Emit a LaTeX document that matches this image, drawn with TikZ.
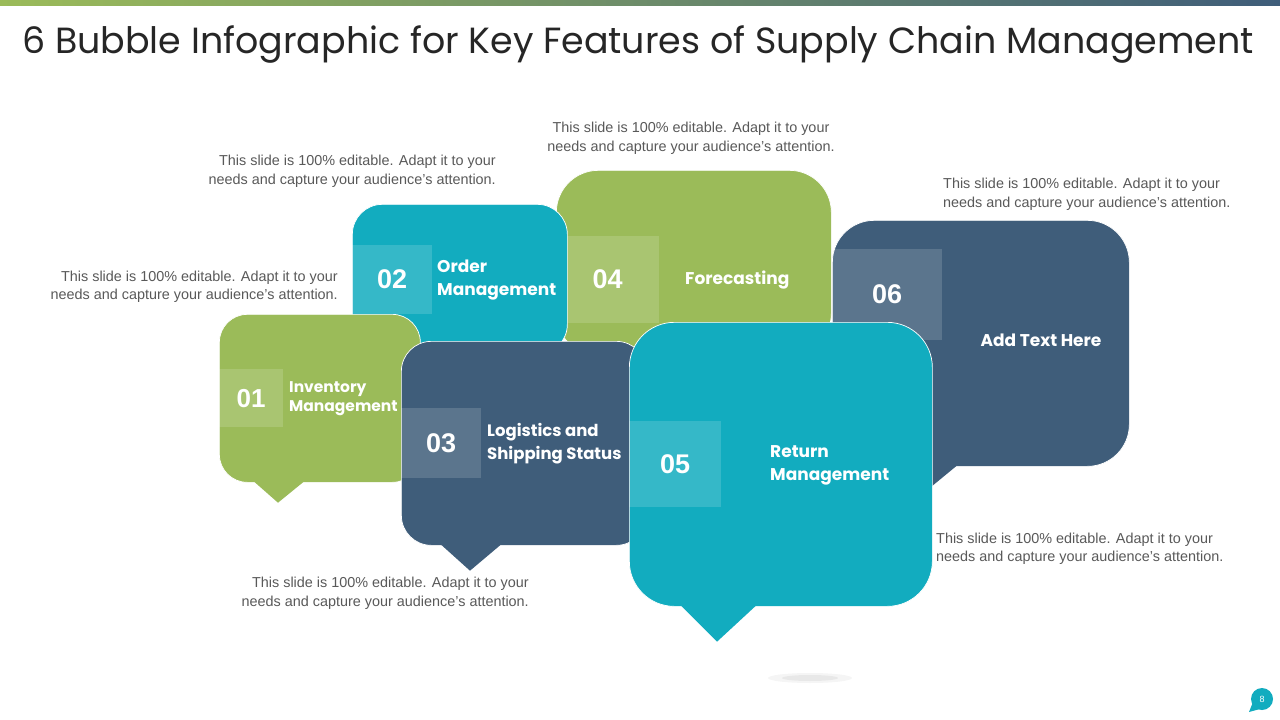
\documentclass[tikz,border=0pt]{standalone}
\usepackage{fontspec}
\setmainfont{Liberation Sans}
\newfontfamily\headfont{Poppins}
\usetikzlibrary{positioning,calc}
\definecolor{sgreen}{HTML}{9BBB59}
\definecolor{scyan}{HTML}{12ACBF}
\definecolor{sdark}{HTML}{3F5D7A}
\definecolor{sgray}{HTML}{595959}

\begin{document}
\begin{tikzpicture}[
      x=1pt, y=-1pt,
      bubble/.style={
        draw=white,
        line width=0.7pt,
        anchor=north west,
        inner sep=0pt
      },
      numbox/.style={
        fill=white,
        fill opacity=0.15,
        text opacity=1,
        text=white,
        anchor=north west,
        inner sep=0pt,
        font=\fontsize{27}{27}\selectfont\bfseries
      },
      lbl/.style={
        text=white,
        anchor=west,
        align=left,
        inner sep=0pt,
        font=\headfont\fontsize{17}{23}\selectfont\bfseries
      },
      desc/.style={
        text=sgray,
        inner sep=0pt,
        font=\fontsize{14.4}{18.5}\selectfont
      }
    ]

    \useasboundingbox[fill=white] (0,0) rectangle (1280,720);
    \shade[left color=sgreen, right color=sdark] (0,0) rectangle (1280,5);

    \node[anchor=west, inner sep=0pt, text=black!85,
      font=\headfont\fontsize{36.4}{40}\selectfont] (title) at (22,45)
      {6 Bubble Infographic for Key Features of Supply Chain Management};

    % bubbles, back to front
    \node[bubble, fill=sgreen, rounded corners=42pt,
      minimum width=275pt, minimum height=185pt] (b4) at (556,170) {};
    \node[numbox, minimum width=103pt, minimum height=87pt] (n4) at (556,236) {04};
    \node[lbl] (l4) at (685,280) {Forecasting};

    \node[bubble, fill=sdark, rounded corners=42pt,
      minimum width=297pt, minimum height=246pt] (b6) at (832,220) {};
    \fill[sdark] ($(b6.south west)+(68,-2)$) -- ++(58,0)
      -- ($(b6.south west)+(92,26)$) -- cycle;
    \node[numbox, minimum width=110pt, minimum height=91pt] (n6) at (832,249) {06};
    \node[lbl, anchor=center] (l6) at (1041,340) {Add Text Here};

    \node[bubble, fill=scyan, rounded corners=30pt,
      minimum width=215pt, minimum height=150pt] (b2) at (352,204) {};
    \node[numbox, minimum width=80pt, minimum height=69pt] (n2) at (352,245) {02};
    \node[lbl] (l2) at (437,280) {Order\\Management};

    \node[bubble, fill=sgreen, rounded corners=28pt,
      minimum width=201pt, minimum height=168pt] (b1) at (219,314) {};
    \fill[sgreen] ($(b1.south west)+(34,-2)$) -- ++(52,0)
      -- ($(b1.south west)+(59,20)$) -- cycle;
    \node[numbox, minimum width=64pt, minimum height=58pt,
      font=\fontsize{26}{26}\selectfont\bfseries] (n1) at (219,369) {01};
    \node[lbl, font=\headfont\fontsize{15.5}{19}\selectfont\bfseries] (l1)
      at (289,399) {Inventory\\Management};

    \node[bubble, fill=sdark, rounded corners=30pt,
      minimum width=245pt, minimum height=204pt] (b3) at (401,341) {};
    \fill[sdark] ($(b3.south west)+(39,-2)$) -- ++(62,0)
      -- ($(b3.south west)+(69,25)$) -- cycle;
    \node[numbox, minimum width=80pt, minimum height=70pt] (n3) at (401,408) {03};
    \node[lbl, font=\headfont\fontsize{16.5}{23}\selectfont\bfseries] (l3)
      at (487,444) {Logistics and\\Shipping Status};

    \node[bubble, fill=scyan, rounded corners=45pt,
      minimum width=303pt, minimum height=284pt] (b5) at (629,322) {};
    \fill[scyan] ($(b5.south west)+(51,-2)$) -- ++(77,0)
      -- ($(b5.south west)+(88,35)$) -- cycle;
    \node[numbox, minimum width=92pt, minimum height=86pt] (n5) at (629,421) {05};
    \node[lbl] (l5) at (770,465) {Return\\Management};

    % shadow under the big bubble
    \fill[black, opacity=0.04] (810,678) ellipse [x radius=42, y radius=5];
    \fill[black, opacity=0.05] (810,678) ellipse [x radius=28, y radius=3];

    % descriptions
    \node[desc, align=right, anchor=east] (d1) at (338,287)
      {This slide is 100\% editable. Adapt it to your\\needs and capture your audience's attention.};
    \node[desc, align=right, anchor=east] (d2) at (496,171.5)
      {This slide is 100\% editable. Adapt it to your\\needs and capture your audience's attention.};
    \node[desc, align=center] (d4) at (691,138.5)
      {This slide is 100\% editable. Adapt it to your\\needs and capture your audience's attention.};
    \node[desc, align=left, anchor=west] (d6) at (943,194.5)
      {This slide is 100\% editable. Adapt it to your\\needs and capture your audience's attention.};
    \node[desc, align=left, anchor=west] (d5) at (936,549)
      {This slide is 100\% editable. Adapt it to your\\needs and capture your audience's attention.};
    \node[desc, align=right, anchor=east] (d3) at (529,593.5)
      {This slide is 100\% editable. Adapt it to your\\needs and capture your audience's attention.};

    % page number
    \node[circle, fill=scyan, minimum size=22pt, inner sep=0pt, text=white,
      font=\fontsize{9}{9}\selectfont] (pg) at (1262,699) {8};
    \fill[scyan] ($(pg.center)+(-9,3)$) -- ($(pg.center)+(-13,13)$)
      -- ($(pg.center)+(-2,10)$) -- cycle;

  \end{tikzpicture}
\end{document}
